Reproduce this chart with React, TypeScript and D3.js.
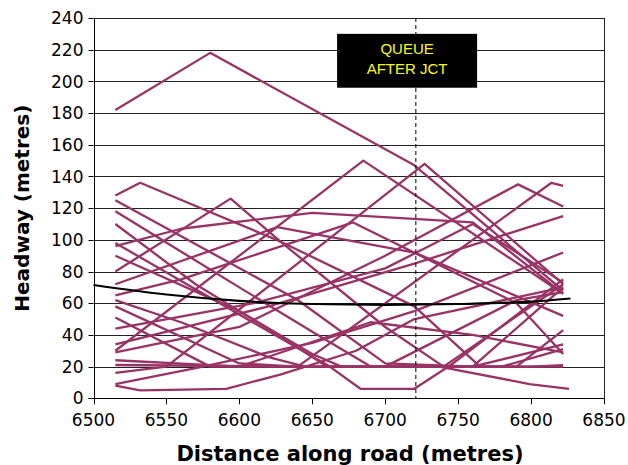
import * as d3 from "d3";

// headway trajectories, [distance (m), headway (m)]
const runs: [number, number][][] = [
  [[6515, 182], [6580, 218], [6720, 147], [6822, 68]],
  [[6515, 128], [6532, 136], [6628, 99], [6720, 58], [6765, 20], [6822, 20]],
  [[6515, 125], [6640, 62], [6700, 22], [6760, 20], [6822, 70]],
  [[6515, 118], [6600, 70], [6650, 42], [6690, 20], [6740, 20], [6822, 72]],
  [[6515, 110], [6570, 72], [6630, 38], [6660, 20], [6780, 20], [6822, 31]],
  [[6515, 98], [6662, 20], [6683, 6], [6720, 6], [6745, 21], [6822, 75]],
  [[6515, 30], [6685, 150], [6822, 66]],
  [[6515, 90], [6600, 55], [6650, 28], [6670, 20], [6800, 20], [6822, 21]],
  [[6515, 80], [6594, 126], [6628, 99], [6700, 45], [6740, 20], [6790, 20], [6822, 43]],
  [[6515, 72], [6626, 108], [6720, 92], [6822, 52]],
  [[6515, 65], [6560, 75], [6678, 111], [6790, 60], [6822, 28]],
  [[6515, 16], [6550, 20], [6727, 148], [6822, 72]],
  [[6515, 58], [6600, 22], [6640, 20], [6760, 20], [6822, 34]],
  [[6515, 29], [6600, 45], [6700, 90], [6791, 135], [6822, 121]],
  [[6515, 21], [6640, 20], [6814, 136], [6822, 134]],
  [[6515, 34], [6620, 58], [6720, 85], [6822, 115]],
  [[6515, 9], [6570, 19], [6650, 35], [6720, 55], [6822, 92]],
  [[6515, 8], [6532, 5], [6591, 6], [6628, 15], [6680, 30], [6720, 50], [6822, 70]],
  [[6515, 51], [6580, 20], [6737, 20], [6799, 9], [6826, 6]],
  [[6515, 96], [6560, 107], [6650, 117], [6760, 111], [6822, 66]],
  [[6515, 44], [6610, 60], [6700, 82], [6760, 110], [6822, 73]],
  [[6515, 62], [6560, 48], [6620, 26], [6645, 20], [6700, 20], [6790, 62], [6822, 67]],
  [[6515, 24], [6600, 20], [6690, 48], [6760, 40], [6822, 29]],
];

// mean headway trend
const meanLine: [number, number][] = [
  [6500, 71.5], [6550, 65.5], [6600, 61.5], [6650, 59.5],
  [6700, 59], [6750, 59.5], [6800, 61], [6827, 63],
];

const xTicks = [6500, 6550, 6600, 6650, 6700, 6750, 6800, 6850];
const yTicks = [0, 20, 40, 60, 80, 100, 120, 140, 160, 180, 200, 220, 240];
const junctionAt = 6721;

const W = 628;
const H = 465;
const m = { left: 93.5, right: 604, top: 18, bottom: 398.3 };

export default function App() {
  const x = d3.scaleLinear().domain([6500, 6850]).range([m.left, m.right]);
  const y = d3.scaleLinear().domain([0, 240]).range([m.bottom, m.top]);

  const line = d3
    .line<[number, number]>()
    .x((d) => x(d[0]))
    .y((d) => y(d[1]));
  const smooth = d3
    .line<[number, number]>()
    .x((d) => x(d[0]))
    .y((d) => y(d[1]))
    .curve(d3.curveMonotoneX);

  const font = "'DejaVu Sans', Verdana, sans-serif";

  return (
    <svg
      width={W}
      height={H}
      style={{ position: "absolute", left: 0, top: 0, background: "#fff" }}
    >
      {/* gridlines */}
      <g>
        {yTicks.map((t) => (
          <line
            key={t}
            x1={m.left}
            x2={m.right}
            y1={Math.round(y(t)) + 0.5}
            y2={Math.round(y(t)) + 0.5}
            stroke="#222"
            strokeWidth={1}
          />
        ))}
      </g>
      <line
        x1={Math.round(m.right) + 0.5}
        x2={Math.round(m.right) + 0.5}
        y1={m.top}
        y2={m.bottom}
        stroke="#222"
      />

      {/* trajectories */}
      <g fill="none" stroke="#993366" strokeWidth={2.3} strokeLinejoin="round">
        {runs.map((r, i) => (
          <path key={i} d={line(r) ?? ""} />
        ))}
      </g>

      {/* mean */}
      <path d={smooth(meanLine) ?? ""} fill="none" stroke="#000" strokeWidth={2.2} />

      {/* junction marker */}
      <line
        x1={x(junctionAt)}
        x2={x(junctionAt)}
        y1={m.top}
        y2={m.bottom}
        stroke="#000"
        strokeWidth={1}
        strokeDasharray="4,3"
      />
      <rect
        x={x(6667)}
        y={y(230)}
        width={x(6763) - x(6667)}
        height={y(196) - y(230)}
        fill="#000"
      />
      <g
        fill="#ffff00"
        fontFamily="'Liberation Sans', Arial, sans-serif"
        fontSize={15}
        textAnchor="middle"
      >
        <text x={x(6715)} y={y(230) + 20}>QUEUE</text>
        <text x={x(6715)} y={y(230) + 40}>AFTER JCT</text>
      </g>

      {/* axes */}
      <line
        x1={Math.round(m.left) + 0.5}
        x2={Math.round(m.left) + 0.5}
        y1={m.top}
        y2={m.bottom}
        stroke="#000"
      />
      <line
        x1={m.left - 5}
        x2={m.right}
        y1={Math.round(m.bottom) + 0.5}
        y2={Math.round(m.bottom) + 0.5}
        stroke="#000"
      />
      {yTicks.map((t) => (
        <g key={t}>
          <line
            x1={m.left - 5}
            x2={m.left}
            y1={Math.round(y(t)) + 0.5}
            y2={Math.round(y(t)) + 0.5}
            stroke="#000"
          />
          <text
            x={m.left - 10}
            y={y(t)}
            dy="0.36em"
            textAnchor="end"
            fontFamily={font}
            fontSize={17}
          >
            {t}
          </text>
        </g>
      ))}
      {xTicks.map((t) => (
        <g key={t}>
          <line
            x1={Math.round(x(t)) + 0.5}
            x2={Math.round(x(t)) + 0.5}
            y1={m.bottom}
            y2={m.bottom + 6}
            stroke="#000"
          />
          <text
            x={x(t)}
            y={m.bottom + 22}
            dy="0.36em"
            textAnchor="middle"
            fontFamily={font}
            fontSize={17}
          >
            {t}
          </text>
        </g>
      ))}

      <text
        x={350}
        y={453}
        dy="0.36em"
        textAnchor="middle"
        fontFamily={font}
        fontWeight="bold"
        fontSize={21}
      >
        Distance along road (metres)
      </text>
      <text
        transform={`translate(22,${(m.top + m.bottom) / 2}) rotate(-90)`}
        dy="0.36em"
        textAnchor="middle"
        fontFamily={font}
        fontWeight="bold"
        fontSize={20}
      >
        Headway (metres)
      </text>
    </svg>
  );
}
